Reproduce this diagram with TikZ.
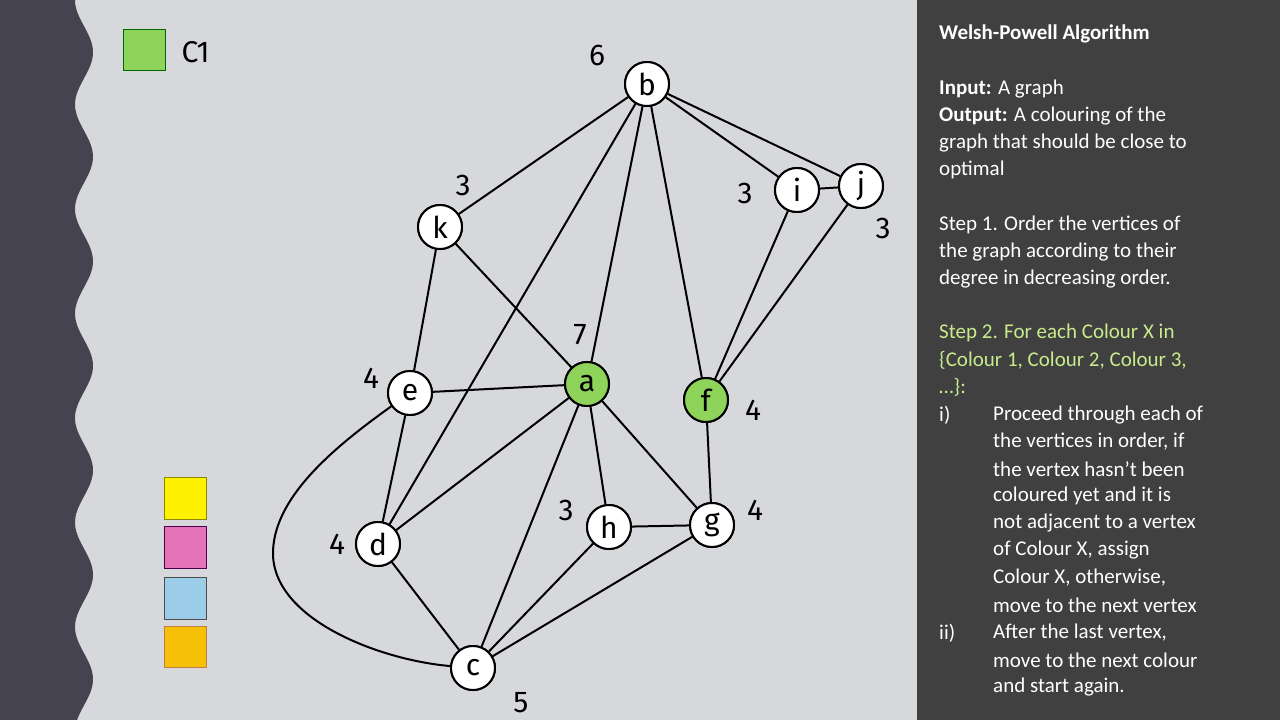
\documentclass[tikz,border=0pt]{standalone}
\usepackage{fontspec}
\setmainfont{Carlito}
\newfontfamily\hand{Fira Sans}
\begin{document}
\begin{tikzpicture}[x=1pt,y=-1pt,
  vtx/.style={circle,draw=black,line width=2pt,fill=white,minimum size=44pt,inner sep=0pt,font=\hand\fontsize{30}{30}\selectfont},
  grn/.style={vtx,fill=vgreen},
  deg/.style={font=\hand\fontsize{30}{30}\selectfont},
  edge/.style={line width=2pt},
  sq/.style={line width=1pt},
  txt/.style={anchor=west,text=white,font=\fontsize{21}{21}\selectfont,inner sep=0pt},
  gtxt/.style={txt,text=stepgreen}]
\definecolor{bg}{HTML}{D7D8DB}
\definecolor{dark}{HTML}{45434F}
\definecolor{panel}{HTML}{404040}
\definecolor{vgreen}{HTML}{8FD45A}
\definecolor{stepgreen}{HTML}{C8EB8C}
\useasboundingbox (0,0) rectangle (1280,720);
\fill[bg] (0,0) rectangle (1280,720);
\fill[dark] (0,0) -- plot[domain=0:720,samples=200,smooth] ({84+9*sin(\x*3.445-90)},\x) -- (0,720) -- cycle;
\fill[panel] (917,0) rectangle (1280,720);
% legend
\draw[sq,draw=green!40!black,fill=vgreen] (123,29) rectangle (165,70);
\node[deg,anchor=west] (c1) at (178,52) {C1};
\draw[sq,draw=olive,fill=yellow] (164,477) rectangle (206,519);
\draw[sq,draw=violet!60!black,fill={rgb,255:red,228;green,115;blue,185}] (164,526) rectangle (206,568);
\draw[sq,draw=gray!60!black,fill={rgb,255:red,156;green,205;blue,232}] (164,577) rectangle (206,619);
\draw[sq,draw=brown,fill={rgb,255:red,245;green,192;blue,5}] (164,626) rectangle (206,667);
% vertices
\node[vtx] (b) at (647,84) {b};
\node[vtx] (k) at (440,227) {k};
\node[vtx] (i) at (797,190) {i};
\node[vtx] (j) at (861,186) {j};
\node[vtx] (e) at (410,393) {e};
\node[grn] (a) at (587,384) {a};
\node[grn] (f) at (706,400) {f};
\node[vtx] (d) at (378,544) {d};
\node[vtx] (h) at (609,527) {h};
\node[vtx] (g) at (712,525) {g};
\node[vtx] (c) at (473,668) {c};
\foreach \u/\v in {b/k,b/d,b/a,b/f,b/i,b/j,i/j,i/f,j/f,k/e,k/a,e/a,e/d,a/d,a/c,a/h,a/g,f/g,h/g,h/c,g/c,d/c}
  \draw[edge] (\u) -- (\v);
\draw[edge] (e) .. controls (330,450) and (272,500) .. (273,555) .. controls (275,620) and (380,660) .. (c);
% degrees
\node[deg] (db) at (597,55) {6};
\node[deg] (dk) at (463,185) {3};
\node[deg] (di) at (745,193) {3};
\node[deg] (dj) at (883,228) {3};
\node[deg] (da) at (580,335) {7};
\node[deg] (de) at (371,378) {4};
\node[deg] (df) at (753,410) {4};
\node[deg] (dh) at (566,510) {3};
\node[deg] (dg) at (755,510) {4};
\node[deg] (dd) at (337,544) {4};
\node[deg] (dc) at (521,703) {5};
% text panel
\node[txt,font=\bfseries\fontsize{21}{21}\selectfont] (t0) at (939,34) {Welsh-Powell Algorithm};
\node[txt] (t1) at (939,89) {\textbf{Input:} A graph};
\node[txt] (t2) at (939,116) {\textbf{Output:} A colouring of the};
\node[txt] (t3) at (939,143) {graph that should be close to};
\node[txt] (t4) at (939,170) {optimal};
\node[txt] (t5) at (939,225) {Step 1. Order the vertices of};
\node[txt] (t6) at (939,252) {the graph according to their};
\node[txt] (t7) at (939,279) {degree in decreasing order.};
\node[gtxt] (t8) at (939,333) {Step 2. For each Colour X in};
\node[gtxt] (t9) at (939,360) {\{Colour 1, Colour 2, Colour 3,};
\node[gtxt] (t10) at (939,387) {\dots\}:};
\node[txt] (r1) at (939,415) {i)};
\node[txt] (s1) at (993,415) {Proceed through each of};
\node[txt] (s2) at (993,442) {the vertices in order, if};
\node[txt] (s3) at (993,469) {the vertex hasn’t been};
\node[txt] (s4) at (993,496) {coloured yet and it is};
\node[txt] (s5) at (993,523) {not adjacent to a vertex};
\node[txt] (s6) at (993,550) {of Colour X, assign};
\node[txt] (s7) at (993,578) {Colour X, otherwise,};
\node[txt] (s8) at (993,605) {move to the next vertex};
\node[txt] (r2) at (939,633) {ii)};
\node[txt] (s9) at (993,633) {After the last vertex,};
\node[txt] (s10) at (993,660) {move to the next colour};
\node[txt] (s11) at (993,687) {and start again.};
% redraw vertices on top
\foreach \n/\p/\s in {b/{647,84}/vtx,k/{440,227}/vtx,i/{797,190}/vtx,j/{861,186}/vtx,e/{410,393}/vtx,a/{587,384}/grn,f/{706,400}/grn,d/{378,544}/vtx,h/{609,527}/vtx,g/{712,525}/vtx,c/{473,668}/vtx}
  \node[\s] at (\p) {\n};
\end{tikzpicture}
\end{document}
